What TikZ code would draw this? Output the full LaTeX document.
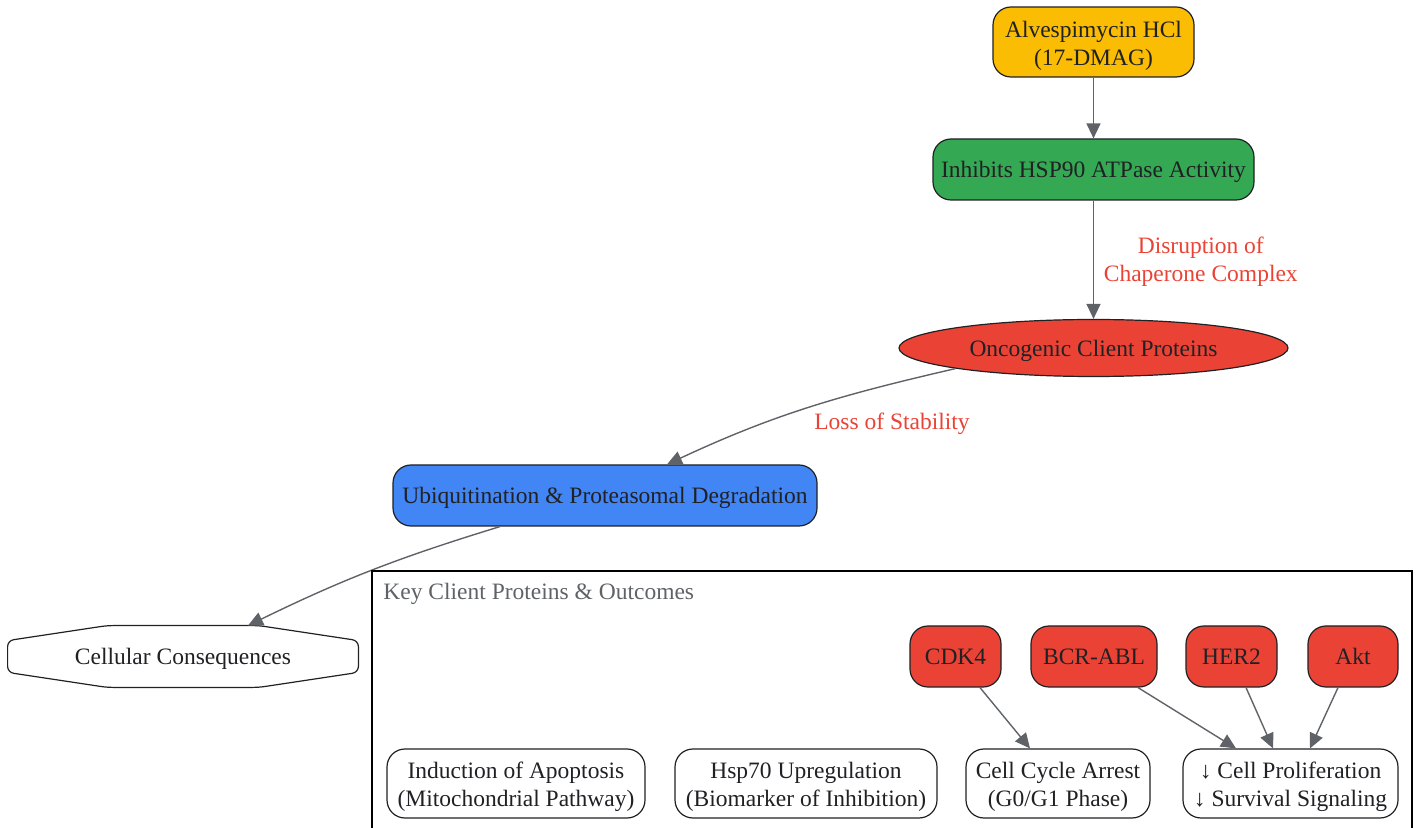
\documentclass[tikz,border=0pt]{standalone}
\usepackage{fontspec}
\setmainfont{Liberation Serif}
\usetikzlibrary{positioning,shapes.geometric}
\usetikzlibrary{arrows.meta}
\definecolor{drugyellow}{HTML}{FBBC04}
\definecolor{inhgreen}{HTML}{34A853}
\definecolor{clientred}{HTML}{EA4335}
\definecolor{degblue}{HTML}{4285F4}
\definecolor{darkline}{HTML}{202124}
\definecolor{edgegrey}{HTML}{5F6368}
\tikzset{myarrow/.style={draw=edgegrey, line width=0.7pt, -{Triangle[length=7.5pt, width=7pt]}}}
\tikzset{box/.style={draw=darkline, line width=0.6pt, rounded corners=9pt, align=center, text=darkline, inner sep=0pt}}
\tikzset{oneline/.style={text height=10.9pt, text depth=2.5pt}}
\tikzset{twoline/.style={text height=25.9pt, text depth=2.5pt}}
\tikzset{edgelabel/.style={text=clientred, align=center}}

\begin{document}
\begin{tikzpicture}[x=0.5pt, y=-0.5pt, font=\fontsize{11.75}{14}\selectfont]
		\useasboundingbox (0,0) rectangle (1420,828);
		
		% OBEN
		\node[box, twoline, fill=drugyellow, minimum width=100.5pt, minimum height=35pt] (drug) at (1093.5,42) {Alvespimycin HCl\\(17-DMAG)};
		\node[box, oneline, fill=inhgreen, minimum width=160.5pt, minimum height=30.5pt] (inhib) at (1093.5,169.5) {Inhibits HSP90 ATPase Activity};
		\node[ellipse, oneline, draw=darkline, line width=0.6pt, fill=clientred, text=darkline, minimum width=194.5pt, minimum height=28.5pt, inner sep=0pt] (onco) at (1093.5,348) {Oncogenic Client Proteins};
		\node[box, oneline, fill=degblue, minimum width=212pt, minimum height=30.5pt] (ubiq) at (605,495.5) {Ubiquitination \& Proteasomal Degradation};
		
		\draw[myarrow] (drug) -- (inhib);
		\draw[myarrow] (inhib) -- node[edgelabel, right=3pt, xshift=-1.5pt, yshift=-1pt] (disrupt) {Disruption of\\Chaperone Complex} (onco);
		\draw[myarrow] (onco.south west) to[out=193, in=25] node[edgelabel, pos=.4, anchor=north west, xshift=-14pt, yshift=-3pt] (loss) {Loss of Stability} ([xshift=31pt]ubiq.north);
		
		% KONSEQUENZEN
		\node[oneline, minimum width=175pt, minimum height=30.5pt, inner sep=0pt, text=darkline] (cons) at (183,656.5) {Cellular Consequences};
		\draw[darkline, line width=0.6pt, rounded corners=3pt] ([xshift=38pt]cons.north) -- ([yshift=-7.5pt]cons.north east) -- ([yshift=7.5pt]cons.south east) -- ([xshift=38pt]cons.south) -- ([xshift=-38pt]cons.south) -- ([yshift=7.5pt]cons.south west) -- ([yshift=-7.5pt]cons.north west) -- ([xshift=-38pt]cons.north) -- cycle;
		\draw[myarrow] ([xshift=-52.5pt]ubiq.south) to[out=197, in=26] ([xshift=32.5pt]cons.north);
		
		% CLUSTER
		\draw[black, line width=0.6pt] (372,840) -- (372,571) -- (1412,571) -- (1412,840);
		\node[text=edgegrey, anchor=west, inner sep=0pt] (keytext) at (383,593.5) {Key Client Proteins \& Outcomes};
		
		\foreach \n/\x/\w/\t in {cdk/955.5/45.5/CDK4, bcr/1094/63/BCR-ABL, her/1231.5/45.5/HER2, akt/1353/45/Akt} {
			\node[box, oneline, fill=clientred, minimum width=\w pt, minimum height=30.5pt] (\n) at (\x,656.5) {\t};
		}
		
		\node[box, twoline, minimum width=129pt, minimum height=34.5pt] (apop) at (516,783.5) {Induction of Apoptosis\\(Mitochondrial Pathway)};
		\node[box, twoline, minimum width=131pt, minimum height=34.5pt] (hsp) at (806,783.5) {Hsp70 Upregulation\\(Biomarker of Inhibition)};
		\node[box, twoline, minimum width=92pt, minimum height=34.5pt] (cycle) at (1058,783.5) {Cell Cycle Arrest\\(G0/G1 Phase)};
		\node[box, twoline, minimum width=107.5pt, minimum height=34.5pt] (prolif) at (1290.5,783.5) {↓ Cell Proliferation\\↓ Survival Signaling};
		
		\draw[myarrow] ([xshift=12.25pt]cdk.south) -- ([xshift=-14pt]cycle.north);
		\draw[myarrow] ([xshift=22pt]bcr.south) -- ([xshift=-27.25pt]prolif.north);
		\draw[myarrow] ([xshift=7.25pt]her.south) -- ([xshift=-8.75pt]prolif.north);
		\draw[myarrow] ([xshift=-7.5pt]akt.south) -- ([xshift=9.75pt]prolif.north);
		
	\end{tikzpicture}
\end{document}
